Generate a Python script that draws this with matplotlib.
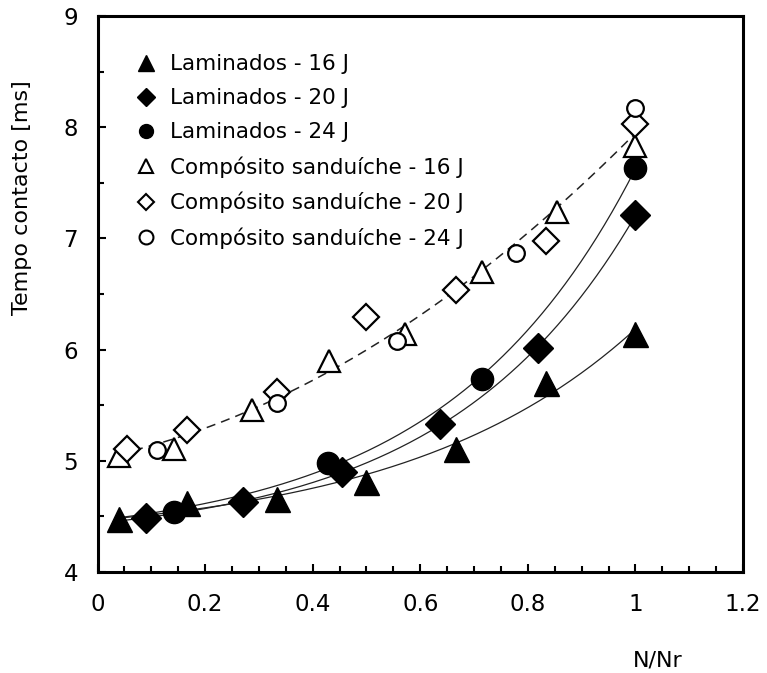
import numpy as np
import matplotlib
matplotlib.use("Agg")
import matplotlib.pyplot as plt
from matplotlib.ticker import MultipleLocator
from matplotlib.lines import Line2D

plt.rcParams['font.family'] = ['DejaVu Sans']

# Laminados
lam16_x = [0.04, 0.167, 0.333, 0.5, 0.667, 0.833, 1.0]
lam16_y = [4.48, 4.62, 4.66, 4.81, 5.11, 5.70, 6.14]
lam20_x = [0.09, 0.27, 0.455, 0.636, 0.818, 1.0]
lam20_y = [4.49, 4.63, 4.90, 5.33, 6.01, 7.21]
lam24_x = [0.143, 0.429, 0.714, 1.0]
lam24_y = [4.54, 4.98, 5.74, 7.63]
# Compósito sanduíche
cs16_x = [0.04, 0.143, 0.288, 0.43, 0.571, 0.714, 0.855, 1.0]
cs16_y = [5.04, 5.11, 5.46, 5.90, 6.14, 6.70, 7.24, 7.83]
cs20_x = [0.055, 0.167, 0.333, 0.5, 0.667, 0.833, 1.0]
cs20_y = [5.11, 5.28, 5.62, 6.29, 6.54, 6.98, 8.03]
cs24_x = [0.111, 0.333, 0.556, 0.778, 1.0]
cs24_y = [5.10, 5.52, 6.08, 6.87, 8.17]

labels = ["Laminados - 16 J", "Laminados - 20 J", "Laminados - 24 J",
          "Compósito sanduíche - 16 J", "Compósito sanduíche - 20 J",
          "Compósito sanduíche - 24 J"]


def exp_fit(xd, yd):
    xd = np.asarray(xd, float)
    yd = np.asarray(yd, float)
    best = None
    for cc in np.linspace(0.3, 12, 600):
        A = np.column_stack([np.ones_like(xd), np.exp(cc * xd)])
        coef, *_ = np.linalg.lstsq(A, yd, rcond=None)
        r = np.sum((A @ coef - yd) ** 2)
        if best is None or r < best[0]:
            best = (r, coef[0], coef[1], cc)
    _, a, b, cc = best
    return lambda x: a + b * np.exp(cc * x)


fig = plt.figure(figsize=(7.67, 6.73), dpi=100)
ax = fig.add_axes([97.5/767, 1-572/673, (743-97.5)/767, (572-16)/673])

# trend lines
xs = np.linspace(0.04, 1.0, 200)
for xd, yd in [(lam16_x, lam16_y), (lam20_x, lam20_y), (lam24_x, lam24_y)]:
    f = exp_fit(xd, yd)
    ax.plot(xs, f(xs), color='#222222', lw=0.9, zorder=1)
allx = cs16_x + cs20_x + cs24_x
ally = cs16_y + cs20_y + cs24_y
c = np.polyfit(allx, ally, 2)
ax.plot(xs, np.polyval(c, xs), color='#222222', lw=1.1, ls=(0, (6, 4)), zorder=1)

ax.plot(lam16_x, lam16_y, '^', color='black', ms=18, ls='none', zorder=3)
ax.plot(lam20_x, lam20_y, 'D', color='black', ms=15, ls='none', zorder=3)
ax.plot(lam24_x, lam24_y, 'o', color='black', ms=16, ls='none', zorder=3)
ax.plot(cs16_x, cs16_y, '^', mfc='white', mec='black', mew=1.6, ms=16, ls='none', zorder=3)
ax.plot(cs20_x, cs20_y, 'D', mfc='white', mec='black', mew=1.6, ms=13, ls='none', zorder=3)
ax.plot(cs24_x, cs24_y, 'o', mfc='white', mec='black', mew=1.6, ms=12, ls='none', zorder=3)

ax.set_xlim(0, 1.2)
ax.set_ylim(4, 9)
ax.xaxis.set_major_locator(MultipleLocator(0.2))
ax.xaxis.set_minor_locator(MultipleLocator(0.05))
ax.yaxis.set_major_locator(MultipleLocator(1))
ax.yaxis.set_minor_locator(MultipleLocator(0.5))
ax.set_xticks(np.arange(0, 1.21, 0.2))
ax.set_xticklabels(['0', '0.2', '0.4', '0.6', '0.8', '1', '1.2'])
ax.tick_params(which='both', direction='in', top=False, right=False, labelsize=16.5, width=1.5)
ax.tick_params(which='major', length=6)
ax.tick_params(which='minor', length=4)
ax.tick_params(axis='x', pad=15)
ax.tick_params(axis='y', pad=14)
for s in ax.spines.values():
    s.set_linewidth(2.2)

fig.text(658/767, 1-660/673, "N/Nr", ha='center', va='center', fontsize=16)
fig.text(22/767, 1-198/673, "Tempo contacto [ms]", ha='center', va='center',
         rotation=90, fontsize=16)

handles = [
    Line2D([], [], marker='^', color='black', ms=11, ls='none'),
    Line2D([], [], marker='D', color='black', ms=9, ls='none'),
    Line2D([], [], marker='o', color='black', ms=10, ls='none'),
    Line2D([], [], marker='^', mfc='white', mec='black', mew=1.5, ms=10, ls='none'),
    Line2D([], [], marker='D', mfc='white', mec='black', mew=1.5, ms=8, ls='none'),
    Line2D([], [], marker='o', mfc='white', mec='black', mew=1.5, ms=10, ls='none'),
]
leg = ax.legend(handles, labels, loc='upper left', bbox_to_anchor=(0.035, 0.958),
                frameon=False, fontsize=15.5, handletextpad=0.6,
                labelspacing=0.65, handlelength=1.0, borderaxespad=0.3)

fig.savefig("out.png", dpi=100)
